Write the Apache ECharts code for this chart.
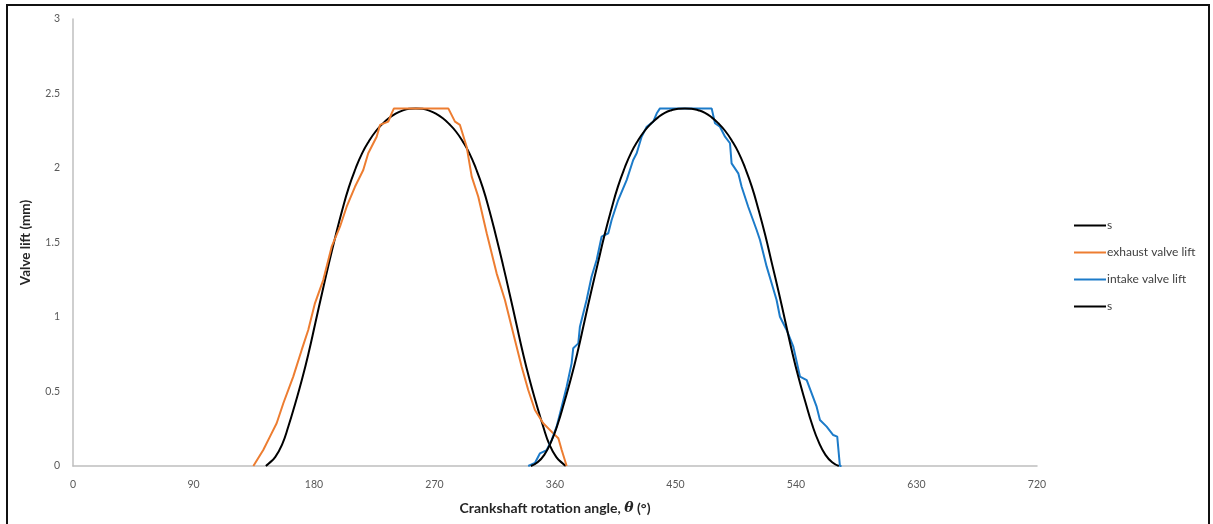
<!DOCTYPE html>
<html>
<head>
<meta charset="utf-8">
<script src="https://cdn.jsdelivr.net/npm/echarts@6/dist/echarts.min.js"></script>
<style>
  html, body { margin: 0; padding: 0; background: #fff; }
  #main { width: 1213px; height: 524px; }
</style>
</head>
<body>
<div id="main"></div>
<script>
// axis ticks
const xTicks = [0, 90, 180, 270, 360, 450, 540, 630, 720];
const yTicks = [0, 0.5, 1, 1.5, 2, 2.5, 3];

// legend names (two curves share the label "s")
const names = ["s", "exhaust valve lift", "intake valve lift", "s "];

// reference lift curve 1 (black)
const s1Angle = [144, 146, 151, 156, 161, 166, 171, 176, 181, 186, 191, 196, 201, 206, 211, 216, 221, 226, 231, 236, 241, 246, 251, 256,
  261, 266, 271, 276, 281, 286, 291, 296, 301, 306, 311, 316, 321, 326, 331, 336, 341, 346, 351, 356, 361, 366, 368];
const s1Lift = [0, 0.015, 0.06, 0.14, 0.27, 0.42, 0.58, 0.76, 0.96, 1.16, 1.355, 1.54, 1.715, 1.87, 1.995, 2.10, 2.18, 2.245, 2.295, 2.335, 2.365, 2.385, 2.397, 2.40,
  2.397, 2.385, 2.365, 2.335, 2.295, 2.245, 2.18, 2.10, 1.995, 1.87, 1.715, 1.54, 1.355, 1.16, 0.96, 0.76, 0.58, 0.42, 0.27, 0.14, 0.06, 0.015, 0];

// exhaust valve lift (orange)
const exAngle = [134.7, 142.1, 147.1, 152.1, 157.1, 164.5, 170.8, 175.7, 180.7, 186.9, 193.2, 199.4, 204.4, 210.6, 216.8, 220.5, 226.8, 229.3, 235.5, 238, 239.7,
  280.3, 285.3, 289, 294, 297.8, 302.7, 309, 316.4, 322.6, 328.8, 335.1, 340, 345, 351.2, 358.7, 362.5, 365, 368.7];
const exLift = [0, 0.107, 0.197, 0.287, 0.421, 0.6, 0.779, 0.913, 1.092, 1.248, 1.472, 1.606, 1.74, 1.874, 1.987, 2.099, 2.21, 2.289, 2.311, 2.367, 2.4,
  2.4, 2.311, 2.289, 2.143, 1.942, 1.807, 1.562, 1.293, 1.114, 0.891, 0.666, 0.51, 0.376, 0.287, 0.219, 0.186, 0.107, 0];

// intake valve lift (blue)
const inAngle = [340, 345, 348.8, 353.8, 357.5, 361.2, 365, 368.7, 372.4, 373.6, 377.4, 378.6, 383.6, 387.3, 391.1, 394.8, 399.8, 402.3, 407.2, 413.5, 418.4, 421, 424.7, 428.5, 433.4, 436, 438.4,
  477, 479.5, 483.2, 487, 490.7, 491.9, 496.9, 499.4, 504.3, 510.6, 513.1, 518.1, 521.8, 525.5, 528, 533, 538, 543, 548, 551.7, 555.4, 557.9, 562.9, 567.8, 570.8, 572.8, 574];
const inLift = [0, 0.02, 0.085, 0.107, 0.174, 0.264, 0.398, 0.532, 0.689, 0.79, 0.823, 0.935, 1.114, 1.27, 1.383, 1.539, 1.562, 1.651, 1.785, 1.919, 2.054, 2.099, 2.21, 2.277, 2.311, 2.367, 2.4,
  2.4, 2.3, 2.277, 2.21, 2.166, 2.031, 1.964, 1.874, 1.74, 1.584, 1.517, 1.338, 1.226, 1.114, 1.002, 0.913, 0.801, 0.6, 0.577, 0.488, 0.398, 0.309, 0.264, 0.208, 0.197, 0, 0];

// reference lift curve 2 (black)
const s2Angle = [342, 347, 352, 357, 362, 367, 372, 377, 382, 387, 392, 397, 402, 407, 412, 417, 422, 427, 432, 437, 442, 447, 452, 457,
  462, 467, 472, 477, 482, 487, 492, 497, 502, 507, 512, 517, 522, 527, 532, 537, 542, 547, 552, 557, 562, 567, 572];
const s2Lift = [0, 0.025, 0.075, 0.16, 0.28, 0.43, 0.59, 0.77, 0.97, 1.17, 1.36, 1.55, 1.72, 1.875, 2.0, 2.105, 2.185, 2.25, 2.30, 2.34, 2.37, 2.388, 2.398, 2.40,
  2.398, 2.388, 2.37, 2.34, 2.30, 2.25, 2.185, 2.105, 2.0, 1.875, 1.72, 1.55, 1.36, 1.17, 0.97, 0.77, 0.59, 0.43, 0.28, 0.16, 0.075, 0.025, 0];

const zip = (a, b) => a.map((v, i) => [v, b[i]]);

const chart = echarts.init(document.getElementById("main"));

const lineSeries = (name, data, color, smooth) => ({
  name: name,
  type: "line",
  data: data,
  symbol: "none",
  smooth: smooth,
  lineStyle: { color: color, width: 2 },
  itemStyle: { color: color }
});

const option = {
  animation: false,
  textStyle: { fontFamily: "Lato" },
  graphic: [
    {
      type: "rect",
      shape: { x: 7, y: 5, width: 1202, height: 540 },
      style: { fill: "none", stroke: "#111", lineWidth: 2 },
      silent: true
    }
  ],
  grid: { left: 73, right: 176, top: 19, bottom: 58 },
  legend: {
    orient: "vertical",
    left: 1069,
    top: 213,
    icon: "rect",
    itemWidth: 32,
    itemHeight: 2,
    itemGap: 12,
    formatter: (n) => n.trim(),
    textStyle: { color: "#404040", fontSize: 12, lineHeight: 15, padding: [0, 0, 0, -4] },
    data: names
  },
  xAxis: {
    type: "value",
    min: xTicks[0],
    max: xTicks[xTicks.length - 1],
    interval: 90,
    name: "Crankshaft rotation angle, {i|θ} (°)",
    nameLocation: "middle",
    nameGap: 35,
    nameTextStyle: {
      color: "#262626", fontSize: 14, fontWeight: "bold",
      rich: { i: { fontStyle: "italic", fontSize: 14, color: "#262626", fontFamily: "DejaVu Serif" } }
    },
    axisLine: { show: true, lineStyle: { color: "#bfbfbf", width: 1.5 } },
    axisTick: { show: false },
    splitLine: { show: false },
    axisLabel: { color: "#595959", fontSize: 10.5, margin: 13 }
  },
  yAxis: {
    type: "value",
    min: yTicks[0],
    max: yTicks[yTicks.length - 1],
    interval: 0.5,
    name: "Valve lift (mm)",
    nameLocation: "middle",
    nameGap: 40,
    nameTextStyle: { color: "#262626", fontSize: 13.5, fontWeight: "bold" },
    axisLine: { show: true, lineStyle: { color: "#bfbfbf", width: 1.5 } },
    axisTick: { show: false },
    splitLine: { show: false },
    axisLabel: { color: "#595959", fontSize: 10.5, margin: 13 }
  },
  series: [
    lineSeries(names[0], zip(s1Angle, s1Lift), "#000000", true),
    lineSeries(names[1], zip(exAngle, exLift), "#ED7D31", false),
    lineSeries(names[2], zip(inAngle, inLift), "#1C7BC9", false),
    lineSeries(names[3], zip(s2Angle, s2Lift), "#000000", true)
  ]
};

chart.setOption(option);
</script>
</body>
</html>
